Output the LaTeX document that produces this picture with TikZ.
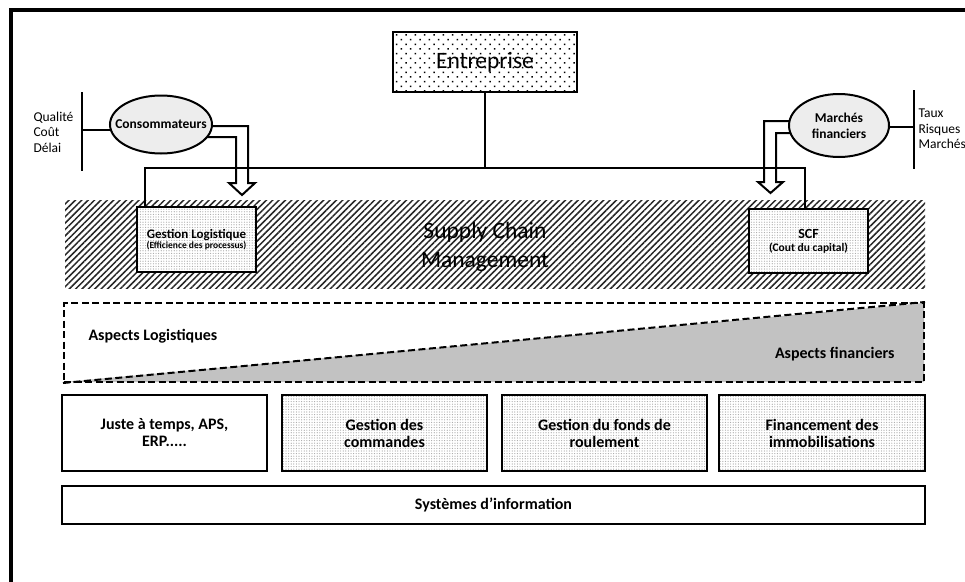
\documentclass[tikz,border=0pt]{standalone}
\usepackage{fontspec}
\setmainfont{Carlito}
\usetikzlibrary{shapes.geometric,patterns,patterns.meta,calc}
\begin{document}
\begin{tikzpicture}[x=1pt,y=-1pt,
  ln/.style={line width=2pt},
  boxst/.style={draw, line width=2.2pt, rectangle, inner sep=0pt, align=center},
  bigdots/.style={pattern={Dots[distance=6.6pt, radius=1.05pt, angle=45]}, pattern color=black},
  lightdots/.style={preaction={fill=white}, pattern={Dots[distance=2.6pt, radius=0.6pt]}, pattern color=black!35},
  hatch/.style={pattern={Lines[angle=45, distance=4.5pt, line width=1.5pt]}, pattern color=black!85},
  ellst/.style={draw, ellipse, line width=2pt, fill=black!7, inner sep=0pt},
  btxt/.style={font=\fontsize{16}{17}\selectfont\bfseries, align=center},
  etxt/.style={font=\fontsize{13.5}{16}\selectfont\bfseries, align=center},
  sidetxt/.style={font=\fontsize{13.5}{15.5}\selectfont, align=left, anchor=west},
]
\useasboundingbox (0,0) rectangle (965,581);
\fill[white] (0,0) rectangle (965,581);

% outer frame
\draw[line width=4pt] (980,10) -- (11,10) -- (11,600);

% Entreprise
\node[boxst, bigdots, minimum width=184pt, minimum height=60pt, font=\fontsize{23.5}{28}\selectfont] (ent) at (485,62) {\raisebox{2pt}{Entreprise}};

% SCM band
\path[hatch] (65,200) rectangle (925,288);
\node[font=\fontsize{23.5}{29}\selectfont, align=center] (scm) at (485,247) {Supply Chain\\Management};

% boxes in band
\node[boxst, lightdots, minimum width=119pt, minimum height=65pt] (gl) at (196.5,239.5)
  {{\fontsize{13}{15}\selectfont\bfseries Gestion Logistique}\\[-2pt]{\fontsize{9.5}{11}\selectfont\bfseries (Efficience des processus)}};
\node[boxst, lightdots, minimum width=119pt, minimum height=64pt] (scf) at (808.5,241)
  {{\fontsize{14}{16}\selectfont\bfseries SCF}\\[1pt]{\fontsize{11.5}{13}\selectfont\bfseries (Cout du capital)}};

% connector tree
\coordinate (jl) at (145,168);
\coordinate (jr) at (805,168);
\draw[ln] (ent.south) -- (ent.south |- jl);
\draw[ln] (gl.north -| jl) -- (jl) -- (jr) -- (scf.north -| jr);

% ellipse centres
\coordinate (consc) at (161,124.5);
\coordinate (mfc) at (839,125.5);

% hollow arrows
\draw[ln, line join=miter] ($(consc)+(0,1.5)$) -- (248,126) -- (248,183) -- (255,183) -- (242,195)
  -- (229,183) -- (236,183) -- (236,137) -- ($(consc)+(0,12.5)$);
\draw[ln, line join=miter] ($(mfc)+(0,-4.5)$) -- (764,121) -- (764,182) -- (758,182) -- (770.5,193)
  -- (783,182) -- (776,182) -- (776,133) -- ($(mfc)+(0,7.5)$);

% brackets
\coordinate (bl) at (82,130);
\coordinate (br) at (914,127);
\draw[line width=2.5pt] (82,92) -- (82,171);
\draw[line width=2.5pt] (914,90) -- (914,169);
\draw[ln] (bl) -- (bl -| consc);
\draw[ln] (br) -- (br -| mfc);

\node[ellst, minimum width=102pt, minimum height=58pt, label={[etxt]center:Consommateurs}] (cons) at (consc) {};
\node[ellst, minimum width=100pt, minimum height=63pt, label={[etxt]center:Marchés\\financiers}] (mf) at (mfc) {};

\node[sidetxt] (q) at (30,132) {Qualité\\Coût\\Délai};
\node[sidetxt] (t) at (915,129) {Taux\\Risques\\Marchés};

% aspects
\node[draw, line width=2pt, dash pattern=on 7pt off 3.5pt, minimum width=860pt, minimum height=79pt, inner sep=0pt,
  path picture={\fill[black!24] (path picture bounding box.south west) -- (path picture bounding box.north east) -- (path picture bounding box.south east) -- cycle;}]
  (asp) at (494,342.5) {};
\draw[line width=2pt, dash pattern=on 7pt off 3.5pt] (asp.south west) -- (asp.north east);
\node[btxt, anchor=west] (al) at (85,336) {Aspects Logistiques};
\node[btxt, anchor=east] (af) at (898,354) {Aspects financiers};

% bottom boxes
\node[boxst, btxt, minimum width=205pt, minimum height=76pt] (b1) at (164.5,433) {Juste à temps, APS,\\ERP.....};
\node[boxst, btxt, lightdots, minimum width=205pt, minimum height=76pt] (b2) at (384.5,433) {Gestion des\\commandes};
\node[boxst, btxt, lightdots, minimum width=205pt, minimum height=76pt] (b3) at (604.5,433) {Gestion du fonds de\\roulement};
\node[boxst, btxt, lightdots, minimum width=206pt, minimum height=76pt] (b4) at (822,433) {Financement des\\immobilisations};
\node[boxst, btxt, minimum width=863pt, minimum height=38pt] (si) at (493.5,505) {Systèmes d’information};
\end{tikzpicture}
\end{document}
